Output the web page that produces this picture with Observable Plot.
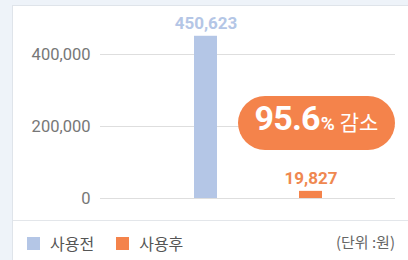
<!DOCTYPE html>
<html><head><meta charset="utf-8">
<script src="https://cdn.jsdelivr.net/npm/d3@7"></script>
<script src="https://cdn.jsdelivr.net/npm/@observablehq/plot@0.6"></script>
<style>
html,body{margin:0;padding:0;}
body{width:408px;height:260px;background:#eef3f9;position:relative;overflow:hidden;font-family:Roboto,"Noto Sans CJK KR",sans-serif;}
#card{position:absolute;left:12px;top:5px;width:420px;height:280px;background:#fff;border:1px solid #dfe4ea;box-sizing:border-box;}
#chart{position:absolute;left:0;top:0;}
#divider{position:absolute;left:13px;top:220px;width:400px;height:1px;background:#e3e6ea;}
#legend{position:absolute;left:27px;top:231px;display:flex;align-items:center;font-family:"Noto Sans CJK KR",sans-serif;font-size:16px;color:#555;}
.sw{width:13px;height:13px;display:inline-block;margin-right:10px;}
.item{display:flex;align-items:center;margin-right:22px;}
#unit{position:absolute;right:13px;top:231px;font-family:"Noto Sans CJK KR",sans-serif;font-size:15px;color:#666;}
#badge{position:absolute;left:238px;top:96px;width:157px;height:54px;border-radius:27px;background:#f4834b;color:#fff;display:flex;align-items:baseline;justify-content:center;box-sizing:border-box;padding-top:2px;font-family:Roboto,"Noto Sans CJK KR",sans-serif;}
#badge .big{font-size:34px;font-weight:700;letter-spacing:-0.8px;}
#badge .pct{font-size:19px;font-weight:700;margin-left:1px;}
#badge .kr{font-size:21px;font-family:"Noto Sans CJK KR",sans-serif;margin-left:5px;}
</style></head>
<body>
<div id="card"></div>
<div id="chart"></div>
<div id="divider"></div>
<div id="badge"><span class="big">95.6</span><span class="pct">%</span><span class="kr">감소</span></div>
<div id="legend"><span class="item"><span class="sw" style="background:#b4c6e6"></span>사용전</span><span class="item"><span class="sw" style="background:#f4834b"></span>사용후</span></div>
<div id="unit">(단위 :원)</div>
<script>
const categories = ["사용전", "사용후"];
const values = [450623, 19827];
const colors = ["#b4c6e6", "#f4834b"];
const labelColors = ["#b4c6e6", "#ef8850"];
const yTicks = [0, 200000, 400000];

const data = categories.map((c, i) => ({cat: c, value: values[i], color: colors[i], lc: labelColors[i]}));

const chart = Plot.plot({
  width: 408,
  height: 215,
  marginLeft: 100,
  marginRight: 13,
  marginTop: 18,
  marginBottom: 17,
  style: {background: "transparent", fontFamily: "Roboto, 'Noto Sans CJK KR', sans-serif"},
  x: {domain: categories, range: [153, 363], paddingInner: 0.78, paddingOuter: 0.39, axis: null},
  y: {domain: [0, 500000], axis: null},
  marks: [
    Plot.ruleY(yTicks, {stroke: "#dedede", strokeWidth: 1}),
    Plot.axisY({ticks: yTicks, tickFormat: d => d3.format(",")(d), tickSize: 0, tickPadding: 10, fontSize: 16.5, fill: "#777", label: null}),
    Plot.barY(data, {x: "cat", y: "value", fill: d => d.color}),
    Plot.text(data, {x: "cat", y: "value", text: d => d3.format(",")(d.value), fill: d => d.lc, dy: -13, fontSize: 17, fontWeight: "bold"})
  ]
});
document.getElementById("chart").appendChild(chart);
</script>
</body></html>
